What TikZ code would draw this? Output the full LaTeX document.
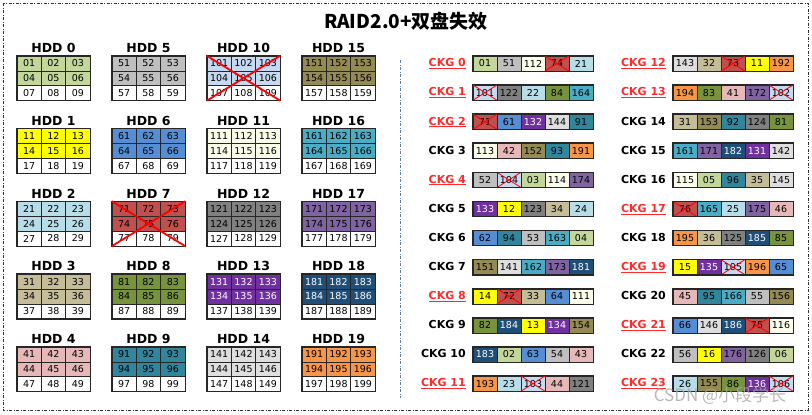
\documentclass[tikz,border=0pt]{standalone}
\usepackage{fontspec}
\setmainfont{DejaVu Sans}
\newfontfamily\cjkfont{Noto Sans CJK SC}
\usepackage{xcolor}
% fill and text colour of the six used slices of each disk
\definecolor{HddFill0}{HTML}{C4D79B}  \colorlet{HddText0}{black}
\definecolor{HddFill1}{HTML}{FFFF00}  \colorlet{HddText1}{black}
\definecolor{HddFill2}{HTML}{B7DEE8}  \colorlet{HddText2}{black}
\definecolor{HddFill3}{HTML}{C4BD97}  \colorlet{HddText3}{black}
\definecolor{HddFill4}{HTML}{E6B9B8}  \colorlet{HddText4}{black}
\definecolor{HddFill5}{HTML}{BFBFBF}  \colorlet{HddText5}{black}
\definecolor{HddFill6}{HTML}{558ED5}  \colorlet{HddText6}{black}
\definecolor{HddFill7}{HTML}{C0504D}  \colorlet{HddText7}{black}
\definecolor{HddFill8}{HTML}{77933C}  \colorlet{HddText8}{black}
\definecolor{HddFill9}{HTML}{31859C}  \colorlet{HddText9}{black}
\definecolor{HddFill10}{HTML}{C6D9F1} \colorlet{HddText10}{black}
\definecolor{HddFill11}{HTML}{FCFCEA} \colorlet{HddText11}{black}
\definecolor{HddFill12}{HTML}{808080} \colorlet{HddText12}{black}
\definecolor{HddFill13}{HTML}{7030A0} \colorlet{HddText13}{white}
\definecolor{HddFill14}{HTML}{DEDEDE} \colorlet{HddText14}{black}
\definecolor{HddFill15}{HTML}{948A54} \colorlet{HddText15}{black}
\definecolor{HddFill16}{HTML}{4BACC6} \colorlet{HddText16}{black}
\definecolor{HddFill17}{HTML}{8064A2} \colorlet{HddText17}{black}
\definecolor{HddFill18}{HTML}{1F4E79} \colorlet{HddText18}{white}
\definecolor{HddFill19}{HTML}{F79646} \colorlet{HddText19}{black}
\definecolor{FailRed}{HTML}{FF2A2A}
\definecolor{SepBlue}{HTML}{5B7FB0}
\newcommand{\failmark}[1]{\underline{\smash{#1}}}

\begin{document}
\begin{tikzpicture}[x=1pt,y=-1pt,
  cell/.style={draw=black!85,line width=0.6pt,minimum width=24.3pt,minimum height=14.8pt,
    inner sep=0pt,font=\fontsize{9.5}{10}\selectfont},
  slotcell/.style={cell,minimum width=24pt,minimum height=15pt},
  frameline/.style={line width=1.1pt,black!85},
  hddlabel/.style={anchor=base,font=\bfseries\fontsize{12.5}{13}\selectfont,inner sep=0pt},
  ckglabel/.style={anchor=base east,font=\bfseries\fontsize{11}{12}\selectfont,inner sep=0pt},
  ckgfail/.style={text=FailRed},
  bigcross/.style={draw=red,line width=1.8pt},
  smallcross/.style={draw=red,line width=0.8pt},
  watermark/.style={font=\cjkfont\fontsize{17}{18}\selectfont,text=black!35,opacity=0.8}]
\useasboundingbox (0,0) rectangle (812,415);
\draw[black!80,line width=0.8pt,dash pattern=on 3pt off 1.5pt on 1pt off 1.5pt] (3,3) rectangle (808,410);
\node[font=\cjkfont\bfseries\fontsize{19}{22}\selectfont] (title) at (406,21) {RAID2.0+双盘失效};

% disks: four columns of five, slices n1..n9 of disk n
\foreach \hc in {0,...,3} {
  \foreach \hr in {0,...,4} {
    \pgfmathtruncatemacro\n{5*\hc+\hr}
    \pgfmathsetmacro\gx{17+95*\hc}
    \pgfmathsetmacro\gy{56+72.75*\hr}
    \node[hddlabel] (hdd\n) at (\gx+36.5,\gy-3.5) {HDD \n};
    \foreach \k in {1,...,9} {
      \pgfmathtruncatemacro\kc{mod(\k-1,3)}
      \pgfmathtruncatemacro\kr{div(\k-1,3)}
      \ifnum\k<7 \def\cf{HddFill\n}\def\ct{HddText\n}\else\def\cf{white}\def\ct{black}\fi
      \node[cell,fill=\cf,text=\ct] (h\n-\k) at (\gx+12.17+24.33*\kc,\gy+7.4+14.8*\kr) {\n\k};
    }
    \draw[frameline] (h\n-1.north west) rectangle (h\n-9.south east);
  }
}
% the two failed disks
\foreach \n in {7,10} {
  \draw[bigcross] (h\n-1.north west) -- (h\n-9.south east) (h\n-3.north east) -- (h\n-7.south west);
}

\draw[SepBlue,line width=0.8pt,dash pattern=on 3pt off 1.5pt on 1pt off 1.5pt] (400,60) -- (400,398);

% chunk groups: number / failed flag / five slices
\foreach \k/\fl/\pa/\pb/\pc/\pd/\pe in {
  0/1/01/51/112/74/21, 1/1/101/122/22/84/164, 2/1/71/61/132/144/91,
  3/0/113/42/152/93/191, 4/1/52/104/03/114/174, 5/0/133/12/123/34/24,
  6/0/62/94/53/163/04, 7/0/151/141/162/173/181, 8/1/14/72/33/64/111,
  9/0/82/184/13/134/154, 10/0/183/02/63/54/43, 11/1/193/23/103/44/121,
  12/1/143/32/73/11/192, 13/1/194/83/41/172/102, 14/0/31/153/92/124/81,
  15/0/161/171/182/131/142, 16/0/115/05/96/35/145, 17/1/76/165/25/175/46,
  18/0/195/36/125/185/85, 19/1/15/135/105/196/65, 20/0/45/95/166/55/156,
  21/1/66/146/186/75/116, 22/0/56/16/176/126/06, 23/1/26/155/86/136/106} {
  \pgfmathtruncatemacro\side{div(\k,12)}
  \pgfmathtruncatemacro\rr{mod(\k,12)}
  \pgfmathsetmacro\bx{473+200*\side}
  \pgfmathsetmacro\by{56+29.1*\rr}
  \foreach \v [count=\j] in {\pa,\pb,\pc,\pd,\pe} {
    \pgfmathtruncatemacro\h{\v/10}
    \node[slotcell,fill=HddFill\h,text=HddText\h] (ckg\k-\j) at (\bx+12+24*\j-24,\by+7.5) {\v};
    \ifnum\h=7 \draw[smallcross] (ckg\k-\j.north west) -- (ckg\k-\j.south east) (ckg\k-\j.north east) -- (ckg\k-\j.south west);\fi
    \ifnum\h=10 \draw[smallcross] (ckg\k-\j.north west) -- (ckg\k-\j.south east) (ckg\k-\j.north east) -- (ckg\k-\j.south west);\fi
  }
  \draw[frameline] (ckg\k-1.north west) rectangle (ckg\k-5.south east);
  \ifnum\fl=1
    \node[ckglabel,ckgfail] (ckglab\k) at (\bx-7,\by+10.8) {\failmark{CKG \k}};
  \else
    \node[ckglabel] (ckglab\k) at (\bx-7,\by+10.8) {CKG \k};
  \fi
}

\node[watermark] (mark) at (720,396) {CSDN @小段学长};
\end{tikzpicture}
\end{document}
